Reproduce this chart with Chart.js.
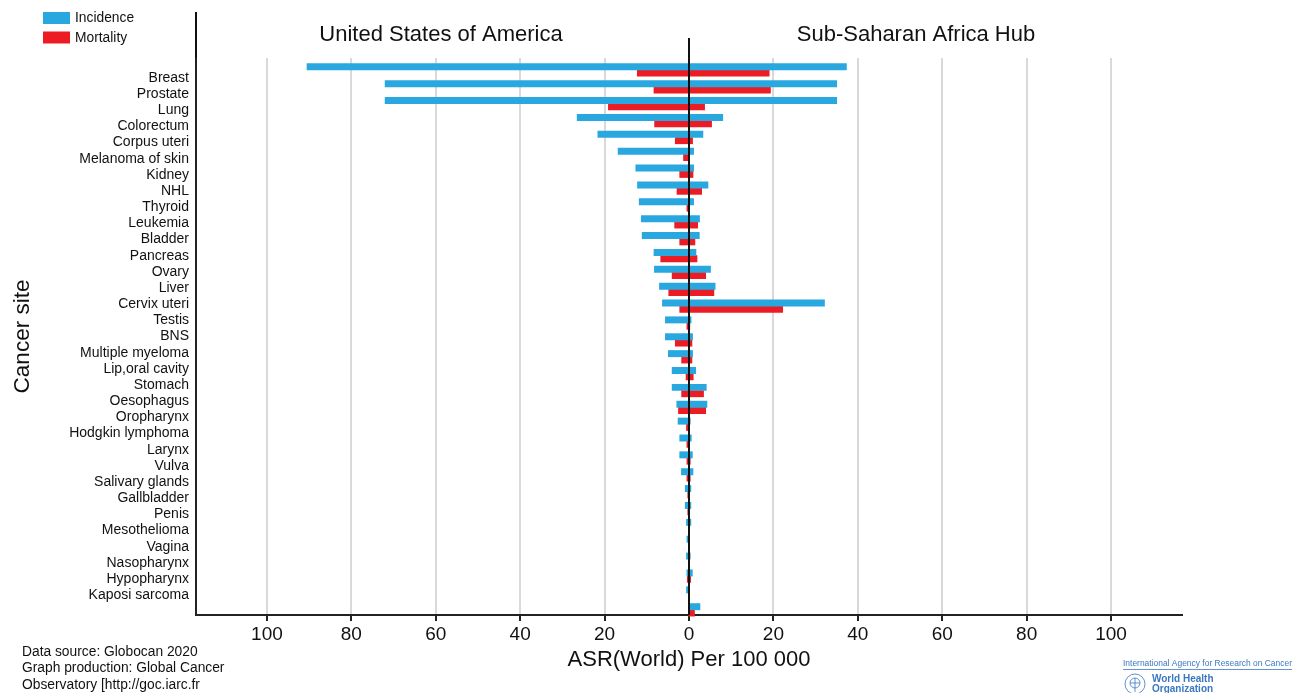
<!DOCTYPE html>
<html>
<head>
<meta charset="utf-8">
<script src="https://cdn.jsdelivr.net/npm/chart.js@4.4.1/dist/chart.umd.min.js"></script>
<style>
    html, body { margin: 0; padding: 0; background: #fff; }
    #wrap { width: 1300px; height: 693px; }
</style>
</head>
<body>
<div id="wrap"><canvas id="chart" width="1300" height="693"></canvas></div>
<script>
// --- Data ---
const sites = ['Breast', 'Prostate', 'Lung', 'Colorectum', 'Corpus uteri', 'Melanoma of skin', 'Kidney', 'NHL',
    'Thyroid', 'Leukemia', 'Bladder', 'Pancreas', 'Ovary', 'Liver', 'Cervix uteri', 'Testis', 'BNS',
    'Multiple myeloma', 'Lip,oral cavity', 'Stomach', 'Oesophagus', 'Oropharynx', 'Hodgkin lymphoma', 'Larynx',
    'Vulva', 'Salivary glands', 'Gallbladder', 'Penis', 'Mesothelioma', 'Vagina', 'Nasopharynx', 'Hypopharynx',
    'Kaposi sarcoma'];

// United States of America (drawn to the left)
const usaIncidence = [90.5, 72.0, 72.0, 26.5, 21.6, 16.8, 12.6, 12.2, 11.8, 11.3, 11.1, 8.3, 8.2, 7.0, 6.3, 5.6, 5.6,
    4.9, 4.0, 4.0, 2.9, 2.6, 2.2, 2.2, 1.8, 0.9, 0.9, 0.6, 0.5, 0.6, 0.5, 0.6, 0.05];
const usaMortality = [12.25, 8.3, 19.1, 8.15, 3.25, 1.3, 2.2, 2.85, 0.5, 3.4, 2.2, 6.7, 4.0, 4.8, 2.2, 0.5, 3.25,
    1.75, 0.7, 1.75, 2.5, 0.6, 0.5, 0.5, 0.5, 0.3, 0.3, 0.1, 0.1, 0.1, 0.4, 0.1, 0.05];

// Sub-Saharan Africa Hub (drawn to the right)
const ssaIncidence = [37.3, 35.0, 35.0, 8.0, 3.3, 1.1, 1.1, 4.5, 1.1, 2.5, 2.45, 1.65, 5.1, 6.2, 32.1, 0.5, 0.85,
    0.85, 1.6, 4.1, 4.25, 0.3, 0.55, 0.8, 0.95, 0.45, 0.45, 0.45, 0.05, 0.3, 0.8, 0.02, 2.6];
const ssaMortality = [19.0, 19.3, 3.7, 5.35, 0.85, 0.1, 0.95, 3.0, 0.1, 2.05, 1.4, 1.9, 3.95, 5.9, 22.2, 0.2, 0.7,
    0.7, 1.0, 3.45, 3.95, 0.1, 0.1, 0.3, 0.3, 0.05, 0.1, 0.1, 0.05, 0.05, 0.4, 0.1, 1.3];

const xTicks = [-100, -80, -60, -40, -20, 0, 20, 40, 60, 80, 100];

// --- Styles ---
const BLUE = '#29a8df';
const RED = '#ec1c24';
const FONT = '"Liberation Sans", Arial, sans-serif';
Chart.defaults.font.family = FONT;
Chart.defaults.color = '#111';

// one floating bar per row: from -USA to +SSA
function rows(left, right) {
    return sites.map((s, i) => ({ y: i, x: [-left[i], right[i]] }));
}

// --- Decorations (titles, legend, footnotes, logo) ---
const decor = {
    id: 'decor',
    beforeDraw(chart) {
        const ctx = chart.ctx;
        ctx.save();
        ctx.fillStyle = '#fff';
        ctx.fillRect(0, 0, chart.width, chart.height);
        ctx.restore();
    },
    afterDatasetsDraw(chart) {
        const { ctx, chartArea, scales } = chart;
        const x0 = scales.x.getPixelForValue(0);
        ctx.save();
        ctx.strokeStyle = '#111';
        ctx.lineWidth = 2;
        ctx.beginPath();
        ctx.moveTo(x0, 38);
        ctx.lineTo(x0, chartArea.bottom);
        ctx.moveTo(chartArea.left, 12);
        ctx.lineTo(chartArea.left, chartArea.top);
        ctx.stroke();
        ctx.restore();
    },
    afterDraw(chart) {
        const ctx = chart.ctx;
        ctx.save();

        // side titles
        ctx.fillStyle = '#111';
        ctx.font = '22px ' + FONT;
        ctx.textAlign = 'center';
        ctx.textBaseline = 'middle';
        ctx.fillText('United States of America', 441, 35);
        ctx.fillText('Sub-Saharan Africa Hub', 916, 35);

        // legend
        ctx.textAlign = 'left';
        ctx.font = '13.8px ' + FONT;
        chart.data.datasets.forEach((ds, i) => {
            const y = 12 + i * 19.5;
            ctx.fillStyle = ds.backgroundColor;
            ctx.fillRect(43, y, 27, 12);
            ctx.fillStyle = '#111';
            ctx.fillText(ds.label, 75, y + 6.5);
        });

        // footnote
        ['Data source: Globocan 2020', 'Graph production: Global Cancer', 'Observatory [http://goc.iarc.fr']
            .forEach((t, i) => ctx.fillText(t, 22, 652 + i * 16.5));

        // IARC / WHO mark
        ctx.fillStyle = '#3b78c2';
        ctx.font = '8.5px ' + FONT;
        ctx.fillText('International Agency for Research on Cancer', 1123, 664, 169);
        ctx.strokeStyle = '#3b78c2';
        ctx.lineWidth = 0.8;
        ctx.beginPath();
        ctx.moveTo(1123, 669.5);
        ctx.lineTo(1292, 669.5);
        ctx.stroke();
        ctx.beginPath();
        ctx.arc(1135, 684, 10, 0, Math.PI * 2);
        ctx.stroke();
        ctx.beginPath();
        ctx.arc(1135, 683, 5, 0, Math.PI * 2);
        ctx.moveTo(1130, 683); ctx.lineTo(1140, 683);
        ctx.moveTo(1135, 678); ctx.lineTo(1135, 692);
        ctx.stroke();
        ctx.font = 'bold 10px ' + FONT;
        ctx.fillText('World Health', 1152, 679);
        ctx.fillText('Organization', 1152, 689.5);

        ctx.restore();
    }
};

// --- Chart ---
new Chart(document.getElementById('chart'), {
    type: 'bar',
    data: {
        datasets: [
            { label: 'Incidence', data: rows(usaIncidence, ssaIncidence), backgroundColor: BLUE, xAxisID: 'x', yAxisID: 'y', clip: false },
            { label: 'Mortality', data: rows(usaMortality, ssaMortality), backgroundColor: RED, xAxisID: 'x', yAxisID: 'y', clip: false }
        ]
    },
    options: {
        indexAxis: 'y',
        responsive: false,
        animation: false,
        barThickness: 6.3,
        layout: { padding: { top: 58, right: 118, left: 0, bottom: 0 } },
        plugins: { legend: { display: false }, tooltip: { enabled: false } },
        scales: {
            x: {
                type: 'linear',
                min: -116.8,
                max: 116.8,
                afterBuildTicks: s => { s.ticks = xTicks.map(v => ({ value: v })); },
                afterFit: s => { s.height = 78; },
                ticks: { callback: v => Math.abs(v), font: { size: 19 }, color: '#111', padding: 2 },
                grid: {
                    color: c => (c.tick && c.tick.value === 0) ? 'rgba(0,0,0,0)' : '#d9d9d9',
                    lineWidth: 2,
                    tickColor: '#222',
                    tickLength: 6
                },
                border: { color: '#222', width: 2 },
                title: { display: true, text: 'ASR(World) Per 100 000', font: { size: 22 }, color: '#111', padding: { top: 0, bottom: 20 } }
            },
            // bar rows (hidden)
            y: {
                type: 'linear',
                display: false,
                offset: false,
                reverse: true,
                min: -0.711,
                max: 32.306
            },
            // site labels
            yl: {
                type: 'linear',
                position: 'left',
                offset: false,
                reverse: true,
                min: -1.2376,
                max: 33.23,
                afterBuildTicks: s => { s.ticks = sites.map((_, i) => ({ value: i })); },
                afterFit: s => { s.width = 196; },
                ticks: { callback: v => sites[v], autoSkip: false, font: { size: 14 }, color: '#111', padding: 7 },
                grid: { display: false, drawTicks: false, offset: false },
                border: { display: true, color: '#222', width: 2 },
                title: { display: true, text: 'Cancer site', font: { size: 22.5 }, color: '#111', padding: { top: 9, bottom: 0 } }
            }
        }
    },
    plugins: [decor]
});
</script>
</body>
</html>
